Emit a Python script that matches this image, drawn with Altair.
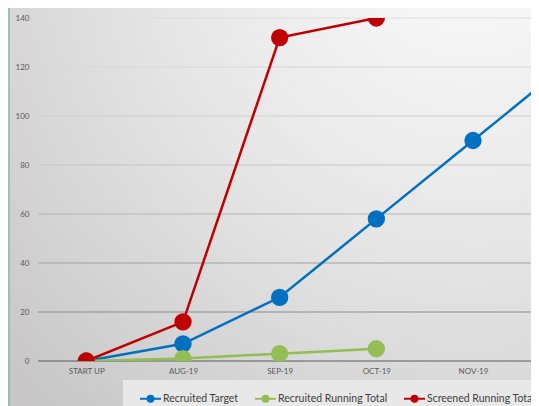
import altair as alt
import pandas as pd

categories = ["START UP", "AUG-19", "SEP-19", "OCT-19", "NOV-19", "DEC-19"]
recruited_target = [0, 7, 26, 58, 90, 122]
recruited_running_total = [0, 1, 3, 5]
screened_running_total = [0, 16, 132, 140]
series_names = ["Recruited Target", "Recruited Running Total", "Screened Running Total"]
series_colors = ["#0070C0", "#92BE54", "#C00000"]
y_ticks = [0, 20, 40, 60, 80, 100, 120, 140]
grid_colors = ["#5a5a5a", "#8a8a8a", "#a2a2a2", "#b6b6b6", "#c6c6c6", "#d0d0d0", "#d8d8d8", "#dedede"]
x_ticks = [0, 1, 2, 3, 4]

rows = []
for name, vals in zip(series_names, [recruited_target, recruited_running_total, screened_running_total]):
    for i, v in enumerate(vals):
        rows.append({"idx": i, "cat": categories[i], "series": name, "value": v})
df = pd.DataFrame(rows)
grid_df = pd.DataFrame({"tick": y_ticks})

W, H = 493, 343
label_expr = "[" + ",".join("'" + c + "'" for c in categories) + "][datum.value]"

x_scale = alt.Scale(domain=[-0.5, 4.6], nice=False, zero=False)
y_scale = alt.Scale(domain=[0, 140], nice=False)

x_enc = alt.X("idx:Q", scale=x_scale,
              axis=alt.Axis(values=x_ticks, labelExpr=label_expr, title=None, domain=False,
                            ticks=False, grid=False, labelFont="Lato", labelFontSize=8,
                            labelColor="#595959", labelPadding=6, zindex=1))
y_enc = alt.Y("value:Q", scale=y_scale,
              axis=alt.Axis(values=y_ticks, title=None, domain=False, ticks=False, grid=False,
                            labelFont="Lato", labelFontSize=8, labelColor="#595959",
                            labelPadding=9, zindex=1))
color_enc = alt.Color("series:N",
                      scale=alt.Scale(domain=series_names, range=series_colors),
                      sort=series_names,
                      legend=alt.Legend(title=None, orient="none", direction="horizontal",
                                        legendX=101, legendY=369,
                                        symbolType="M-1,0L1,0M-0.28,0A0.28,0.28,0,1,1,0.28,0A0.28,0.28,0,1,1,-0.28,0Z",
                                        symbolSize=441, symbolStrokeWidth=2,
                                        labelFont="Lato", labelFontSize=10.5, labelColor="#404040",
                                        labelOffset=1, columnPadding=12, padding=0))

dummy = pd.DataFrame({"k": [0]})
bg = alt.Chart(dummy).mark_rect(
    color=alt.RadialGradient(gradient="radial",
                             stops=[alt.GradientStop(color="#fcfcfc", offset=0),
                                    alt.GradientStop(color="#e6e6e6", offset=0.5),
                                    alt.GradientStop(color="#c8c8c8", offset=1)],
                             x1=0.85, y1=0, x2=0.85, y2=0, r1=0, r2=1.15)
).encode(x=alt.value(-30), x2=alt.value(W + 20), y=alt.value(-10), y2=alt.value(H + 45))

border = alt.Chart(dummy).mark_rule(color="#7fc3a0", strokeWidth=1.5).encode(
    x=alt.value(-29), y=alt.value(-10), y2=alt.value(H + 45))

grid = alt.Chart(grid_df).mark_rule(strokeWidth=1.2).encode(
    y=alt.Y("tick:Q", scale=y_scale),
    x=alt.value(0), x2=alt.value(W + 20),
    stroke=alt.Stroke("tick:O", scale=alt.Scale(domain=y_ticks, range=grid_colors), legend=None))

legend_box = alt.Chart(dummy).mark_rect(color="#e8e8e8").encode(
    x=alt.value(85), x2=alt.value(W + 40), y=alt.value(H + 19), y2=alt.value(H + 60))

base = alt.Chart(df).encode(x=x_enc, y=y_enc, color=color_enc, order=alt.Order("idx:Q"))
lines = base.mark_line(strokeWidth=2.5, clip=True)
points = base.mark_point(filled=True, size=300, opacity=1, clip=True)

chart = alt.layer(bg, border, grid, legend_box, lines, points).resolve_scale(
    stroke="independent"
).properties(
    width=W, height=H,
    padding={"left": 30, "top": 10, "right": 0, "bottom": 45},
    autosize=alt.AutoSizeParams(type="none"),
).configure_view(stroke=None)

chart.save("out.html", embed_options={"renderer": "svg", "actions": False})
